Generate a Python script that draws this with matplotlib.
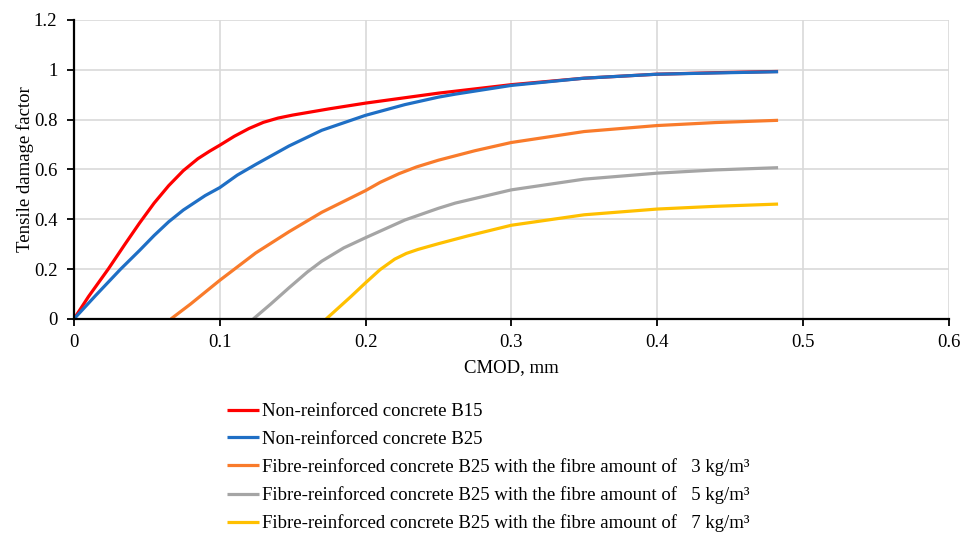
import numpy as np
import matplotlib
matplotlib.use('Agg')
import matplotlib.pyplot as plt

# values (CMOD in mm, damage factor)
b15_x = [0, 0.01, 0.0235, 0.035, 0.045, 0.055, 0.065, 0.075, 0.085, 0.093, 0.1, 0.11,
         0.12, 0.13, 0.14, 0.15, 0.16, 0.175, 0.2, 0.25, 0.3, 0.35, 0.4, 0.44, 0.483]
b15_y = [0, 0.09, 0.2, 0.30, 0.385, 0.465, 0.535, 0.595, 0.643, 0.673, 0.697, 0.733,
         0.764, 0.789, 0.806, 0.818, 0.828, 0.843, 0.866, 0.906, 0.94, 0.966, 0.982, 0.988, 0.993]

b25_x = [0, 0.015, 0.032, 0.045, 0.055, 0.065, 0.075, 0.09, 0.1, 0.112, 0.125, 0.1475,
         0.17, 0.2, 0.227, 0.25, 0.2616, 0.3, 0.35, 0.4, 0.44, 0.483]
b25_y = [0, 0.095, 0.2, 0.275, 0.335, 0.39, 0.437, 0.495, 0.527, 0.577, 0.621, 0.694,
         0.757, 0.817, 0.86, 0.89, 0.902, 0.937, 0.966, 0.982, 0.987, 0.992]

f3_x = [0.0665, 0.08, 0.1, 0.1247, 0.1475, 0.17, 0.2, 0.21, 0.223, 0.235, 0.25, 0.275,
        0.3, 0.35, 0.4, 0.44, 0.483]
f3_y = [0, 0.06, 0.155, 0.265, 0.35, 0.428, 0.515, 0.548, 0.583, 0.61, 0.637, 0.675,
        0.708, 0.752, 0.776, 0.788, 0.797]

f5_x = [0.123, 0.135, 0.1475, 0.16, 0.17, 0.185, 0.2, 0.227, 0.25, 0.2616, 0.3, 0.35,
        0.4, 0.44, 0.483]
f5_y = [0, 0.06, 0.125, 0.188, 0.232, 0.285, 0.326, 0.397, 0.444, 0.465, 0.518, 0.561,
        0.585, 0.598, 0.607]

f7_x = [0.173, 0.19, 0.2, 0.21, 0.22, 0.228, 0.236, 0.25, 0.27, 0.3, 0.35, 0.4, 0.44, 0.483]
f7_y = [0, 0.09, 0.145, 0.198, 0.24, 0.263, 0.279, 0.302, 0.333, 0.376, 0.418, 0.441,
        0.452, 0.461]

labels = ['Non-reinforced concrete B15',
          'Non-reinforced concrete B25',
          'Fibre-reinforced concrete B25 with the fibre amount of   3 kg/m\u00b3',
          'Fibre-reinforced concrete B25 with the fibre amount of   5 kg/m\u00b3',
          'Fibre-reinforced concrete B25 with the fibre amount of   7 kg/m\u00b3']
colors = ['#ff0000', '#1f6fc5', '#f97b2b', '#a5a5a5', '#ffc000']

plt.rcParams['font.family'] = ['Liberation Serif', 'DejaVu Serif']

fig = plt.figure(figsize=(9.68, 5.37), dpi=100)
ax = fig.add_axes([0.0764, 0.406, 0.9036, 0.557])

series = [(b15_x, b15_y), (b25_x, b25_y), (f3_x, f3_y), (f5_x, f5_y), (f7_x, f7_y)]
for (xs, ys), lab, c in zip(series, labels, colors):
    ax.plot(xs, ys, color=c, lw=2.3, label=lab, solid_capstyle='butt',
            solid_joinstyle='round')

ax.set_xlim(0, 0.6)
ax.set_ylim(0, 1.2)
ax.set_xticks(np.arange(0, 0.61, 0.1))
ax.set_yticks(np.arange(0, 1.21, 0.2))
ax.set_xticklabels(['0', '0.1', '0.2', '0.3', '0.4', '0.5', '0.6'])
ax.set_yticklabels(['0', '0.2', '0.4', '0.6', '0.8', '1', '1.2'])
ax.grid(True, color='#d9d9d9', lw=1.2)
ax.set_axisbelow(True)
for s in ['top', 'right']:
    ax.spines[s].set_visible(False)
for s in ['left', 'bottom']:
    ax.spines[s].set_linewidth(1.6)
ax.tick_params(axis='both', direction='out', length=5, width=1.3, labelsize=13.5,
               colors='black')
ax.tick_params(axis='y', pad=7)
ax.tick_params(axis='x', pad=6)
ax.set_xlabel('CMOD, mm', fontsize=13.5, va='center')
ax.set_ylabel('Tensile damage factor', fontsize=13.5, va='center')
ax.xaxis.set_label_coords(0.5, -0.162)
ax.yaxis.set_label_coords(-0.056, 0.5)

fig.legend(loc='upper left', bbox_to_anchor=(0.235, 0.249), frameon=False,
           fontsize=13.5, handlelength=1.7, handletextpad=0.15, labelspacing=0.55,
           borderaxespad=0, borderpad=0)

fig.savefig('out.png', dpi=100)
